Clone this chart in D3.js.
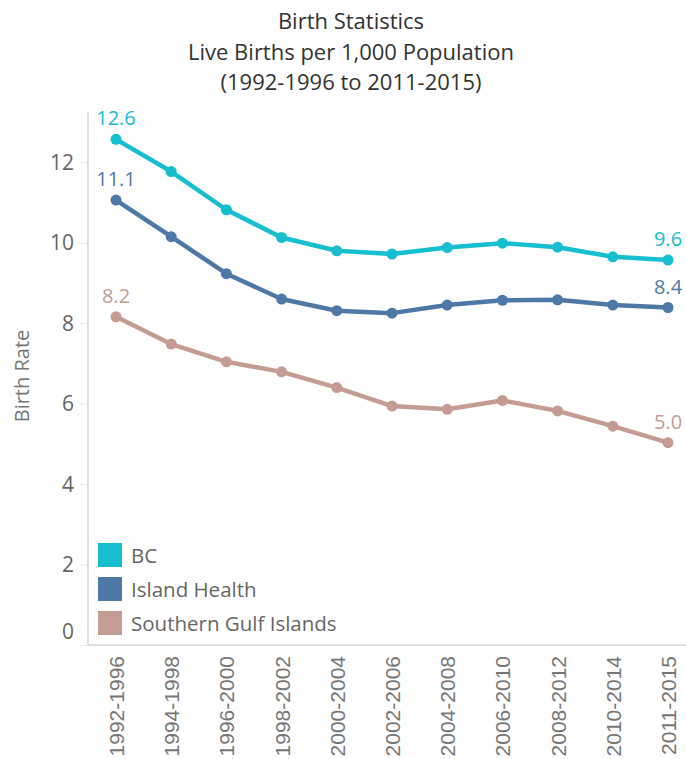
<!DOCTYPE html>
<html>
<head>
<meta charset="utf-8">
<script src="https://cdn.jsdelivr.net/npm/d3@7"></script>
<style>
  html, body { margin: 0; padding: 0; background: #fff; }
  svg { display: block; }
</style>
</head>
<body>
<div id="chart"></div>
<script>
const titleLines = ["Birth Statistics", "Live Births per 1,000 Population", "(1992-1996 to 2011-2015)"];
const periods = ["1992-1996","1994-1998","1996-2000","1998-2002","2000-2004","2002-2006","2004-2008","2006-2010","2008-2012","2010-2014","2011-2015"];
const seriesNames = ["BC", "Island Health", "Southern Gulf Islands"];
const bcValues = [12.57, 11.77, 10.82, 10.13, 9.80, 9.72, 9.88, 9.99, 9.89, 9.65, 9.57];
const ihValues = [11.06, 10.15, 9.23, 8.60, 8.31, 8.25, 8.45, 8.57, 8.58, 8.45, 8.39];
const sgiValues = [8.16, 7.48, 7.04, 6.79, 6.40, 5.94, 5.86, 6.08, 5.82, 5.44, 5.03];
const yTicks = [0, 2, 4, 6, 8, 10, 12];
const colors = ["#17becf", "#4e79a7", "#c49c94"];
const yTitle = "Birth Rate";

const W = 686, H = 759;
const svg = d3.select("#chart").append("svg").attr("width", W).attr("height", H);

// Title
svg.append("g").selectAll("text").data(titleLines).join("text")
  .attr("x", 351).attr("y", (d, i) => 29 + i * 30.5)
  .attr("text-anchor", "middle")
  .attr("font-family", "'Open Sans', sans-serif")
  .attr("font-size", 22).attr("fill", "#333")
  .text(d => d);

const x = d3.scalePoint().domain(periods).range([116, 668]);
const y = d3.scaleLinear().domain([0, 13.25]).range([645, 112]);

// Axes lines
svg.append("line").attr("x1", 88).attr("x2", 88).attr("y1", 112).attr("y2", 645)
  .attr("stroke", "#d4d4d4").attr("stroke-width", 1.5);
svg.append("line").attr("x1", 88).attr("x2", 686).attr("y1", 645).attr("y2", 645)
  .attr("stroke", "#d4d4d4").attr("stroke-width", 1.5);

// Y axis
const yAxis = d3.axisLeft(y).tickValues(yTicks).tickSize(8).tickPadding(6).tickFormat(d3.format("d"));
const yg = svg.append("g").attr("transform", "translate(88,0)").call(yAxis);
yg.select(".domain").remove();
yg.selectAll(".tick line").attr("stroke", "#e6e6e6");
yg.selectAll(".tick text")
  .attr("font-family", "'Open Sans', sans-serif").attr("font-size", 21).attr("fill", "#666")
  .attr("dy", d => d === 0 ? "-0.33em" : "0.34em");

svg.append("text")
  .attr("transform", "translate(29,376) rotate(-90)")
  .attr("text-anchor", "middle")
  .attr("font-family", "'Open Sans', sans-serif").attr("font-size", 20).attr("fill", "#777")
  .text(yTitle);

// X axis
const xAxis = d3.axisBottom(x).tickSize(0).tickPadding(0);
const xg = svg.append("g").attr("transform", "translate(0,645)").call(xAxis);
xg.select(".domain").remove();
xg.selectAll(".tick text")
  .attr("font-family", "'Liberation Sans', Arial, sans-serif").attr("font-size", 21).attr("fill", "#777")
  .attr("transform", "rotate(-90)")
  .attr("text-anchor", "end")
  .attr("x", -11).attr("y", 0).attr("dy", "0.36em");

// Series
const seriesData = [bcValues, ihValues, sgiValues].map((vals, i) => ({
  name: seriesNames[i], color: colors[i],
  points: vals.map((v, j) => ({ period: periods[j], value: v }))
}));

const line = d3.line().x(d => x(d.period)).y(d => y(d.value));

const sg = svg.append("g").selectAll("g").data(seriesData).join("g");
sg.append("path")
  .attr("d", d => line(d.points))
  .attr("fill", "none").attr("stroke", d => d.color).attr("stroke-width", 4.5)
  .attr("stroke-linejoin", "round");
sg.selectAll("circle").data(d => d.points.map(p => ({ ...p, color: d.color }))).join("circle")
  .attr("cx", d => x(d.period)).attr("cy", d => y(d.value)).attr("r", 5.5)
  .attr("fill", d => d.color);

// End labels
sg.each(function(d) {
  const g = d3.select(this);
  const ends = [d.points[0], d.points[d.points.length - 1]];
  g.selectAll("text.lbl").data(ends).join("text")
    .attr("class", "lbl")
    .attr("x", p => x(p.period))
    .attr("y", p => Math.min(y(p.value) - 14, Math.max(y(p.value) - 3, 137)))
    .attr("text-anchor", "middle")
    .attr("font-family", "'Open Sans', sans-serif").attr("font-size", 20)
    .attr("fill", d.color)
    .text(p => p.value.toFixed(1));
});

// Legend
const lg = svg.append("g").selectAll("g").data(seriesData).join("g")
  .attr("transform", (d, i) => `translate(98,${543 + i * 34})`);
lg.append("rect").attr("width", 24).attr("height", 24).attr("fill", d => d.color);
lg.append("text").attr("x", 33).attr("y", 13).attr("dy", "0.35em")
  .attr("font-family", "'Open Sans', sans-serif").attr("font-size", 20.5).attr("fill", "#666")
  .text(d => d.name);
</script>
</body>
</html>
